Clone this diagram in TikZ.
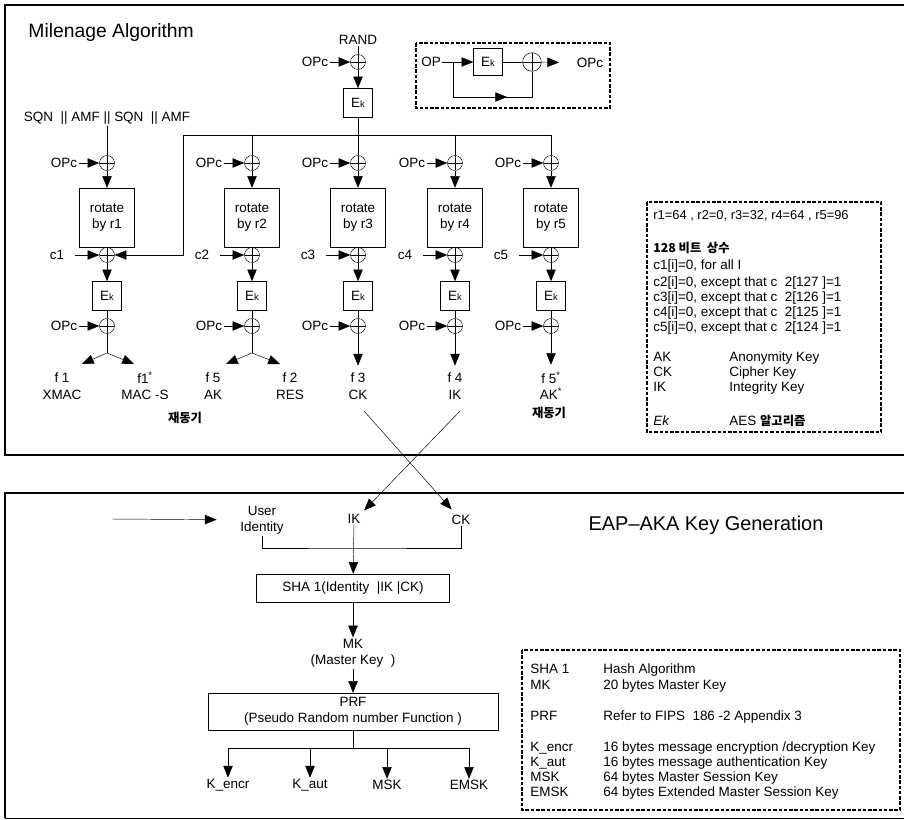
\documentclass[tikz,border=0pt]{standalone}
\usepackage{fontspec}
\setmainfont{Liberation Sans}
\newfontfamily\kr{Noto Sans CJK KR}
\usetikzlibrary{arrows.meta}

\newcommand{\Ek}{E{\footnotesize k}}

\begin{document}
\begin{tikzpicture}[
        x=0.03cm, y=-0.03cm,
        every node/.style={font=\fontsize{11.5}{14}\selectfont, inner sep=1pt},
        arr/.style={-{Triangle[length=10pt,width=8pt]}},
        xor/.style={draw, circle, inner sep=0pt, minimum size=0.45cm,
            path picture={\draw (path picture bounding box.north) -- (path picture bounding box.south)
                (path picture bounding box.west) -- (path picture bounding box.east);}},
        ekbox/.style={draw, minimum width=0.87cm, minimum height=0.87cm, inner sep=0pt},
        rotbox/.style={draw, align=center, minimum width=1.65cm, minimum height=1.77cm},
        outlbl/.style={align=center},
        frame/.style={line width=2.2pt},
        dbox/.style={line width=1.3pt, dash pattern=on 3pt off 1.5pt},
        legtxt/.style={anchor=base west},
        krtxt/.style={font=\kr\bfseries\fontsize{10.5}{12}\selectfont}
    ]
    \useasboundingbox (0,0) rectangle (904,820);

    % Milenage part
    \draw[frame] (904,5) -- (5,5) -- (5,455) -- (904,455);
    \node[font=\fontsize{16.5}{18}\selectfont, anchor=base west] (title1) at (27,38) {Milenage Algorithm};

    \node (rand) at (358,40) {RAND};
    \node[xor] (x0) at (358,62) {};
    \node (opc0) at (315,62) {OPc};
    \node[ekbox] (ek0) at (358,103) {\Ek};
    \draw (rand) -- (x0);
    \draw[arr] (opc0) -- (x0);
    \draw[arr] (x0) -- (ek0);

    % OP -> OPc
    \draw[dbox] (416,43) rectangle (610,108);
    \node[anchor=west] (op) at (420,62) {OP};
    \node[ekbox, minimum height=0.8cm] (iek) at (488,62) {\Ek};
    \node[xor, minimum size=0.56cm] (ixo) at (532,62) {};
    \node (iopc) at (590,63) {OPc};
    \coordinate (ifb) at (453,62);
    \coordinate (ifb2) at (453,97);
    \coordinate (ifbm) at (507,97);
    \draw[arr] (op) -- (iek);
    \draw (iek) -- (ixo);
    \draw[arr, shorten >=14pt] (ixo) -- (iopc);
    \draw (ifb) -- (ifb2) -| (ixo);
    \draw[arr] (ifb2) -- (ifbm);

    % five branches
    \foreach \i/\x in {1/107,2/252,3/358,4/455,5/551} {
        \node[xor] (xo\i) at (\x,163) {};
        \node[rotbox] (rot\i) at (\x,217.5) {rotate\\by r\i};
        \node[xor] (xc\i) at (\x,255) {};
        \node[ekbox] (ek\i) at (\x,296) {\Ek};
        \node[xor] (xe\i) at (\x,326) {};
        \node (opa\i) at (\x-43,163) {OPc};
        \node (opb\i) at (\x-43,326) {OPc};
        \node (c\i) at (\x-50,255) {c\i};
        \draw[arr] (opa\i) -- (xo\i);
        \draw[arr] (xo\i) -- (rot\i);
        \draw (rot\i) -- (xc\i);
        \draw[arr, shorten <=8pt] (c\i) -- (xc\i);
        \draw[arr] (xc\i) -- (ek\i);
        \draw (ek\i) -- (xe\i);
        \draw[arr] (opb\i) -- (xe\i);
    }

    \node (sqn) at (107,118) {SQN~~|| AMF || SQN~~|| AMF};
    \draw (sqn) -- (xo1);
    \coordinate (busl) at (183,135);
    \coordinate (busr) at (551,135);
    \draw (busl) -- (busr);
    \draw (ek0) -- (xo3);
    \draw (busr) -- (xo5);
    \draw (xo4 |- busl) -- (xo4);
    \draw (xo2 |- busl) -- (xo2);
    \draw[arr] (busl) |- (xc1);

    % outputs
    \node[outlbl] (o1a) at (62,386) {f 1\\XMAC};
    \node[outlbl] (o1b) at (145,386) {f1\textsuperscript{*}\\MAC -S};
    \node[outlbl] (o2a) at (213,386) {f 5\\AK};
    \node[outlbl] (o2b) at (290,386) {f 2\\RES};
    \node[outlbl] (o3) at (358,386) {f 3\\CK};
    \node[outlbl] (o4) at (455,386) {f 4\\IK};
    \node[outlbl] (o5) at (551,386) {f 5\textsuperscript{*}\\AK\textsuperscript{*}};
    \node[krtxt] (rs1) at (185,418) {재동기};
    \node[krtxt] (rs2) at (549,413) {재동기};

    \coordinate (j1) at (107,353);
    \coordinate (j2) at (252,353);
    \coordinate (t1a) at (82,364);
    \coordinate (t1b) at (134,364);
    \coordinate (t2a) at (226,364);
    \coordinate (t2b) at (280,364);
    \draw (xe1) -- (j1);
    \draw (xe2) -- (j2);
    \draw[arr] (j1) -- (t1a);
    \draw[arr] (j1) -- (t1b);
    \draw[arr] (j2) -- (t2a);
    \draw[arr] (j2) -- (t2b);
    \draw[arr, shorten >=5pt] (xe3) -- (o3);
    \draw[arr, shorten >=5pt] (xe4) -- (o4);
    \draw[arr, shorten >=5pt] (xe5) -- (o5);

    % constants
    \draw[dbox] (647,202) rectangle (881,432);
    \node[legtxt, font=\fontsize{11}{13}\selectfont] (r1) at (652,219) {r1=64 , r2=0, r3=32, r4=64 , r5=96};
    \node[legtxt, krtxt] (cst) at (652,252) {128 비트~~상수};
    \node[legtxt] (k1) at (652,269) {c1[i]=0, for all I};
    \node[legtxt] (k2) at (652,286) {c2[i]=0, except that c~~2[127 ]=1};
    \node[legtxt] (k3) at (652,301) {c3[i]=0, except that c~~2[126 ]=1};
    \node[legtxt] (k4) at (652,316) {c4[i]=0, except that c~~2[125 ]=1};
    \node[legtxt] (k5) at (652,331) {c5[i]=0, except that c~~2[124 ]=1};
    \node[legtxt] (ak) at (652,361) {AK};
    \node[legtxt] (akd) at (728,361) {Anonymity Key};
    \node[legtxt] (ck) at (652,376) {CK};
    \node[legtxt] (ckd) at (728,376) {Cipher Key};
    \node[legtxt] (ik) at (652,391) {IK};
    \node[legtxt] (ikd) at (728,391) {Integrity Key};
    \node[legtxt] (ek) at (652,425) {\itshape Ek};
    \node[legtxt] (ekd) at (728,425) {AES {\kr\bfseries\fontsize{10.5}{12}\selectfont 알고리즘}};

    % EAP-AKA part
    \draw[frame] (904,493) -- (5,493) -- (5,818);
    \draw[line width=0.8pt] (5,818) -- (904,818);
    \node[font=\fontsize{17}{20}\selectfont] (title2) at (706,525) {EAP\textendash AKA Key Generation};

    \coordinate (uin) at (112,519);
    \node[outlbl] (uid) at (262,520) {User\\Identity};
    \node (ik2) at (354,519) {IK};
    \node (ck2) at (461,520) {CK};
    \coordinate (jn) at (354,548);
    \coordinate (ckout) at (364,411);
    \coordinate (ikout) at (460,411);
    \draw[arr, shorten >=19pt] (uin) -- (uid);
    \draw[arr, shorten >=5pt] (ckout) -- (ck2);
    \draw[arr, shorten >=3pt] (ikout) -- (ik2.north east);
    \draw (uid.south) |- (jn) -| (ck2.south);

    \node[draw, minimum width=5.8cm, minimum height=0.84cm] (sha) at (353,588) {SHA 1(Identity~~|IK |CK)};
    \node[outlbl] (mk) at (353,653) {MK\\(Master Key~~)};
    \node[draw, outlbl, minimum width=8.7cm, minimum height=1.11cm] (prf) at (353,711.5) {PRF\\(Pseudo Random number Function~)};
    \draw[arr] (ik2) -- (sha);
    \draw[arr] (sha) -- (mk);
    \draw[arr] (mk) -- (prf);
    \coordinate (kbus) at (353,748);
    \draw (prf) -- (kbus);
    \foreach \k/\x/\t in {kenc/228/K\_encr, kaut/310/K\_aut, msk/387/MSK, emsk/469/EMSK} {
        \node (\k) at (\x,785) {\t};
        \draw[arr] (kbus) -| (\k);
    }

    % abbreviations
    \draw[dbox] (522,650) rectangle (900,810);
    \node[legtxt] (l1) at (529,673) {SHA 1};
    \node[legtxt] (l1d) at (602,673) {Hash Algorithm};
    \node[legtxt] (l2) at (529,689) {MK};
    \node[legtxt] (l2d) at (602,689) {20 bytes Master Key};
    \node[legtxt] (l3) at (529,720) {PRF};
    \node[legtxt] (l3d) at (602,720) {Refer to FIPS~~186 -2 Appendix 3};
    \node[legtxt] (l4) at (529,751) {K\_encr};
    \node[legtxt] (l4d) at (602,751) {16 bytes message encryption /decryption Key};
    \node[legtxt] (l5) at (529,766) {K\_aut};
    \node[legtxt] (l5d) at (602,766) {16 bytes message authentication Key};
    \node[legtxt] (l6) at (529,781) {MSK};
    \node[legtxt] (l6d) at (602,781) {64 bytes Master Session Key};
    \node[legtxt] (l7) at (529,796) {EMSK};
    \node[legtxt] (l7d) at (602,796) {64 bytes Extended Master Session Key};
\end{tikzpicture}
\end{document}
